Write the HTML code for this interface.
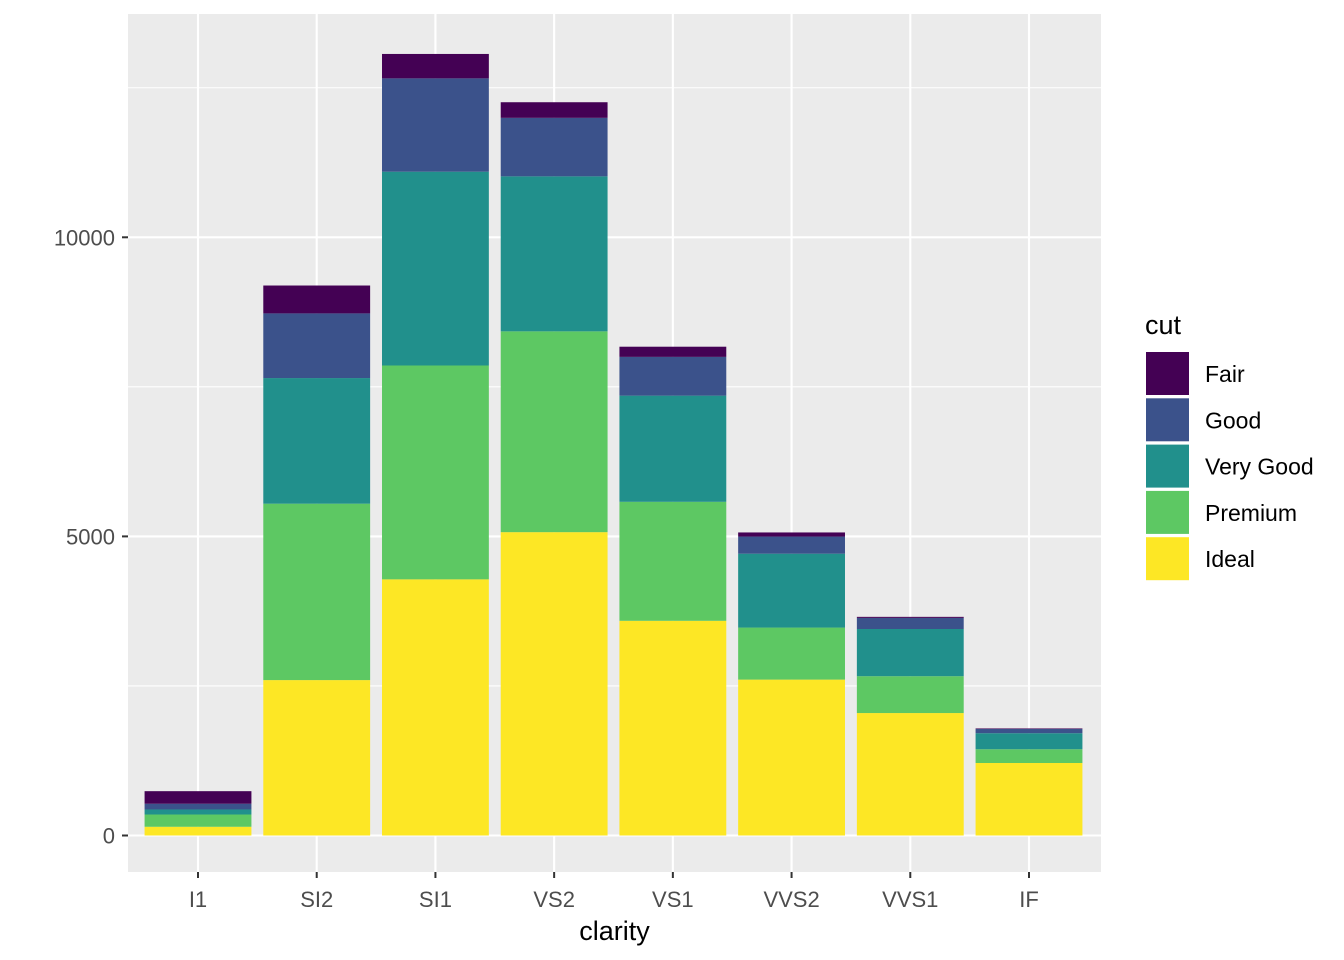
<!DOCTYPE html>
<html><head><meta charset="utf-8"><style>
body{margin:0;background:#fff;}
svg{display:block;font-family:"Liberation Sans",Arial,sans-serif;}
</style></head><body>
<svg id="chart" width="1344" height="960"></svg>
<script>
const categories=["I1","SI2","SI1","VS2","VS1","VVS2","VVS1","IF"];
const cuts=["Fair","Good","Very Good","Premium","Ideal"];
const colors=["#440154","#3B528B","#21908C","#5DC863","#FDE725"];
const fair=[210,466,408,261,170,69,17,9];
const good=[96,1081,1560,978,648,286,186,71];
const veryGood=[84,2100,3240,2591,1775,1235,789,268];
const premium=[205,2949,3575,3357,1989,870,616,230];
const ideal=[146,2598,4282,5071,3589,2606,2047,1212];
const yTicks=[0,5000,10000];
const yMinor=[2500,7500,12500];
const series=[fair,good,veryGood,premium,ideal];
const NS="http://www.w3.org/2000/svg";
const svg=document.getElementById('chart');
const px0=128,px1=1101,py0=14,py1=872;
const y=v=>835.5-v*(835.5-237.3)/10000;
const step=(1029-198)/7;
const x=i=>198+i*step;
function el(t,a,p){const e=document.createElementNS(NS,t);for(const k in a)e.setAttribute(k,a[k]);(p||svg).appendChild(e);return e;}
const panel=el('rect',{x:px0,y:py0,width:px1-px0,height:py1-py0,fill:'#EBEBEB'});


yMinor.forEach(v=>{const l=el('line',{x1:px0,x2:px1,y1:y(v),y2:y(v),stroke:'#fff','stroke-width':1.1});

});
yTicks.forEach(v=>{const l=el('line',{x1:px0,x2:px1,y1:y(v),y2:y(v),stroke:'#fff','stroke-width':2.1});

});
categories.forEach((c,i)=>{const l=el('line',{x1:x(i),x2:x(i),y1:py0,y2:py1,stroke:'#fff','stroke-width':2.1});

});
const bw=step*0.9;
categories.forEach((c,i)=>{
  let base=0;
  for(let s=series.length-1;s>=0;s--){
    const v=series[s][i];
    const r=el('rect',{x:x(i)-bw/2,y:y(base+v),width:bw,height:y(base)-y(base+v),fill:colors[s]});
    
    
    base+=v;
  }
  const t=el('line',{x1:x(i),x2:x(i),y1:py1,y2:py1+6,stroke:'#333','stroke-width':2});
  
  
  const tx=el('text',{x:x(i),y:907,'text-anchor':'middle','font-size':22,fill:'#4D4D4D'});tx.textContent=c;
  
  
});
yTicks.forEach(v=>{
  const t=el('line',{x1:px0-6,x2:px0,y1:y(v),y2:y(v),stroke:'#333','stroke-width':2});
  
  
  const tx=el('text',{x:px0-13,y:y(v)+8,'text-anchor':'end','font-size':22,fill:'#4D4D4D'});tx.textContent=v;
  
  
});
const xt=el('text',{x:(px0+px1)/2,y:940,'text-anchor':'middle','font-size':27,fill:'#000'});xt.textContent='clarity';


const lt=el('text',{x:1145,y:334,'font-size':27,fill:'#000'});lt.textContent='cut';


cuts.forEach((c,i)=>{
  const yy=352+i*46.3;
  const k=el('rect',{x:1146,y:yy,width:43,height:43,fill:colors[i]});
  
  
  const t=el('text',{x:1205,y:yy+30,'font-size':23,fill:'#000'});t.textContent=c;
  
  
});
</script>
</body></html>
